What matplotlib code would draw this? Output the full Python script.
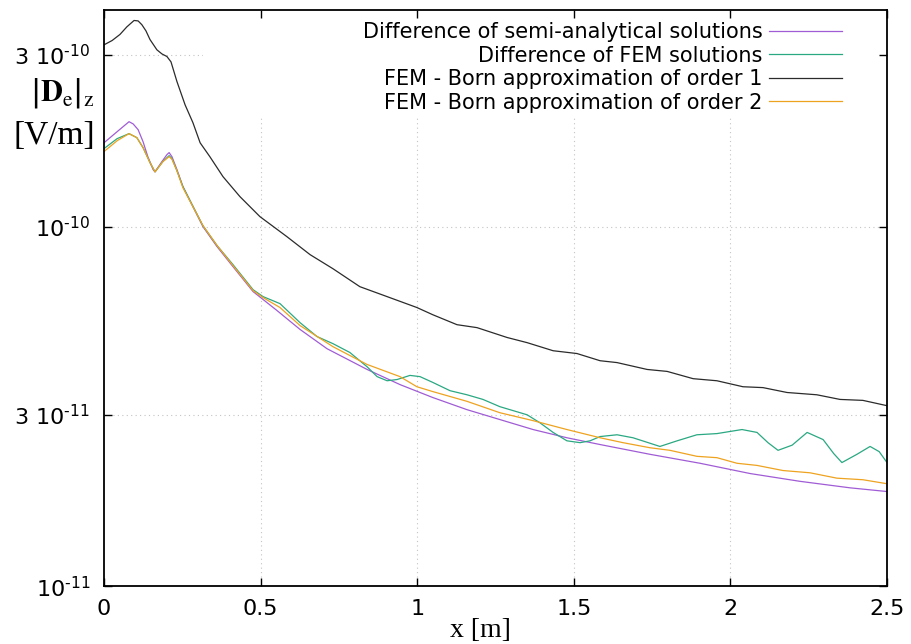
import matplotlib
matplotlib.use("Agg")
import matplotlib.pyplot as plt
from matplotlib.patches import Rectangle
from matplotlib.ticker import NullLocator
import numpy as np

plt.rcParams['font.family'] = ['DejaVu Sans']
plt.rcParams['mathtext.default'] = 'regular'

# values in units of 1e-11 V/m
x_semi = [0, 0.042, 0.080, 0.093, 0.109, 0.125, 0.140, 0.157, 0.163, 0.185, 0.201,
          0.208, 0.217, 0.233, 0.252, 0.316, 0.361, 0.412, 0.476, 0.552, 0.626,
          0.712, 0.840, 0.945, 1.050, 1.159, 1.264, 1.370, 1.478, 1.584, 1.743,
          1.903, 2.063, 2.222, 2.382, 2.5]
y_semi = [17.1, 18.36, 19.57, 19.3, 18.6, 17.2, 15.65, 14.4, 14.2, 15.16, 15.85,
          16.06, 15.65, 14.4, 12.92, 10.0, 8.80, 7.74, 6.60, 5.85, 5.18,
          4.58, 4.01, 3.64, 3.35, 3.10, 2.91, 2.73, 2.59, 2.48, 2.33,
          2.20, 2.06, 1.96, 1.88, 1.836]

x_fem = [0, 0.042, 0.080, 0.105, 0.125, 0.147, 0.163, 0.188, 0.208, 0.217, 0.233,
         0.252, 0.316, 0.361, 0.412, 0.476, 0.508, 0.562, 0.626, 0.680, 0.731,
         0.785, 0.840, 0.872, 0.904, 0.936, 0.977, 1.009, 1.050, 1.105, 1.159,
         1.210, 1.264, 1.351, 1.392, 1.434, 1.478, 1.520, 1.552, 1.584, 1.638,
         1.689, 1.775, 1.830, 1.893, 1.957, 2.037, 2.085, 2.120, 2.152, 2.197,
         2.245, 2.296, 2.330, 2.356, 2.404, 2.446, 2.475, 2.5]
y_fem = [16.47, 17.56, 18.13, 17.67, 16.57, 15.06, 14.2, 15.16, 15.75, 15.45, 14.3,
         12.92, 10.06, 8.86, 7.84, 6.68, 6.39, 6.11, 5.41, 4.95, 4.73,
         4.47, 4.08, 3.83, 3.73, 3.76, 3.86, 3.83, 3.69, 3.50, 3.41,
         3.31, 3.16, 3.00, 2.85, 2.68, 2.54, 2.51, 2.54, 2.61, 2.64,
         2.59, 2.45, 2.54, 2.64, 2.66, 2.73, 2.68, 2.51, 2.39, 2.47,
         2.68, 2.56, 2.34, 2.21, 2.33, 2.45, 2.37, 2.21]

x_born1 = [0, 0.026, 0.051, 0.073, 0.096, 0.109, 0.121, 0.134, 0.147, 0.169, 0.185,
           0.201, 0.214, 0.233, 0.259, 0.284, 0.307, 0.338, 0.380, 0.434, 0.498,
           0.584, 0.658, 0.731, 0.817, 0.904, 0.999, 1.050, 1.127, 1.191, 1.287,
           1.351, 1.434, 1.510, 1.584, 1.638, 1.734, 1.798, 1.881, 1.957, 2.040,
           2.104, 2.181, 2.276, 2.350, 2.423, 2.5]
y_born1 = [32.0, 32.9, 34.2, 35.9, 37.4, 37.3, 36.4, 35.0, 33.1, 31.0, 30.2,
           29.7, 28.7, 25.3, 21.8, 19.45, 17.1, 15.65, 13.77, 12.12, 10.66,
           9.38, 8.36, 7.64, 6.81, 6.39, 5.96, 5.69, 5.34, 5.24, 4.92,
           4.76, 4.52, 4.44, 4.24, 4.19, 4.01, 3.96, 3.78, 3.73, 3.59,
           3.57, 3.46, 3.41, 3.31, 3.29, 3.18]

x_born2 = [0, 0.042, 0.080, 0.105, 0.125, 0.147, 0.163, 0.188, 0.208, 0.217, 0.233,
           0.252, 0.316, 0.361, 0.412, 0.476, 0.508, 0.562, 0.626, 0.731, 0.840,
           0.945, 0.999, 1.050, 1.159, 1.264, 1.370, 1.478, 1.584, 1.657, 1.743,
           1.807, 1.893, 1.957, 2.021, 2.085, 2.168, 2.254, 2.340, 2.423, 2.5]
y_born2 = [16.16, 17.33, 18.13, 17.67, 16.57, 15.06, 14.2, 15.16, 15.65, 15.4, 14.3,
           12.83, 10.06, 8.86, 7.79, 6.64, 6.35, 5.96, 5.31, 4.64, 4.14,
           3.83, 3.59, 3.48, 3.27, 3.04, 2.89, 2.73, 2.59, 2.51, 2.43,
           2.39, 2.30, 2.28, 2.20, 2.17, 2.10, 2.07, 2.00, 1.98, 1.93]

labels = ["Difference of semi-analytical solutions",
          "Difference of FEM solutions",
          "FEM - Born approximation of order 1",
          "FEM - Born approximation of order 2"]
colors = ['#a05cd5', '#2aa882', '#2b2b2b', '#eea320']

yticks = [1e-11, 3e-11, 1e-10, 3e-10]
ytick_labels = ['$10^{\u201011}$', '3 $10^{\u201011}$', '$10^{\u201010}$', '3 $10^{\u201010}$']
xticks = [0, 0.5, 1, 1.5, 2, 2.5]
xtick_labels = ['0', '0.5', '1', '1.5', '2', '2.5']

fig = plt.figure(figsize=(9.12, 6.44), dpi=100)
ax = fig.add_axes([0.114, 0.0893, 0.8586, 0.8952])

series = [(x_semi, y_semi), (x_fem, y_fem), (x_born1, y_born1), (x_born2, y_born2)]
for (xs, ys), lab, c in zip(series, labels, colors):
    ax.plot(xs, np.array(ys) * 1e-11, color=c, lw=0.9, label=lab, zorder=2)

ax.set_yscale('log')
ax.set_xlim(0, 2.5)
ax.set_ylim(1e-11, 4e-10)
ax.set_yticks(yticks)
ax.set_yticklabels(ytick_labels)
ax.yaxis.set_minor_locator(NullLocator())
ax.set_xticks(xticks)
ax.set_xticklabels(xtick_labels)
ax.tick_params(direction='in', top=True, right=True, length=6, width=1,
               labelsize=16)
ax.tick_params(axis='x', pad=9)
ax.tick_params(axis='y', pad=10)
for s in ax.spines.values():
    s.set_linewidth(1.3)

# dotted grid, hidden behind the key area
for xv in xticks[1:-1]:
    ax.axvline(xv, color='#c4c4c4', ls=(0, (1, 3)), lw=0.8, zorder=0.5)
for yv in yticks[1:]:
    ax.axhline(yv, color='#c4c4c4', ls=(0, (1, 3)), lw=0.8, zorder=0.5)
ax.add_patch(Rectangle((0.1264, 0.8127), 0.8736, 0.1873, transform=ax.transAxes,
                       facecolor='white', edgecolor='none', zorder=0.8))

leg = ax.legend(loc='upper right', bbox_to_anchor=(0.9425, 0.979),
                markerfirst=False, frameon=False, fontsize=15,
                borderaxespad=0, borderpad=0, handlelength=3.5,
                handletextpad=0.3, labelspacing=0.17)

fig.text(0.1042, 0.8556, r'$|\mathbf{D}_{\rm e}|_{\rm z}$', ha='right', va='center',
         fontsize=22, math_fontfamily='stix')
fig.text(0.1042, 0.7890, '[V/m]', ha='right', va='center', fontsize=24,
         family='Liberation Serif')
fig.text(480 / 912, 0.002, 'x [m]', ha='center', va='bottom', fontsize=20,
         family='Liberation Serif')

fig.savefig('out.png', dpi=100)
